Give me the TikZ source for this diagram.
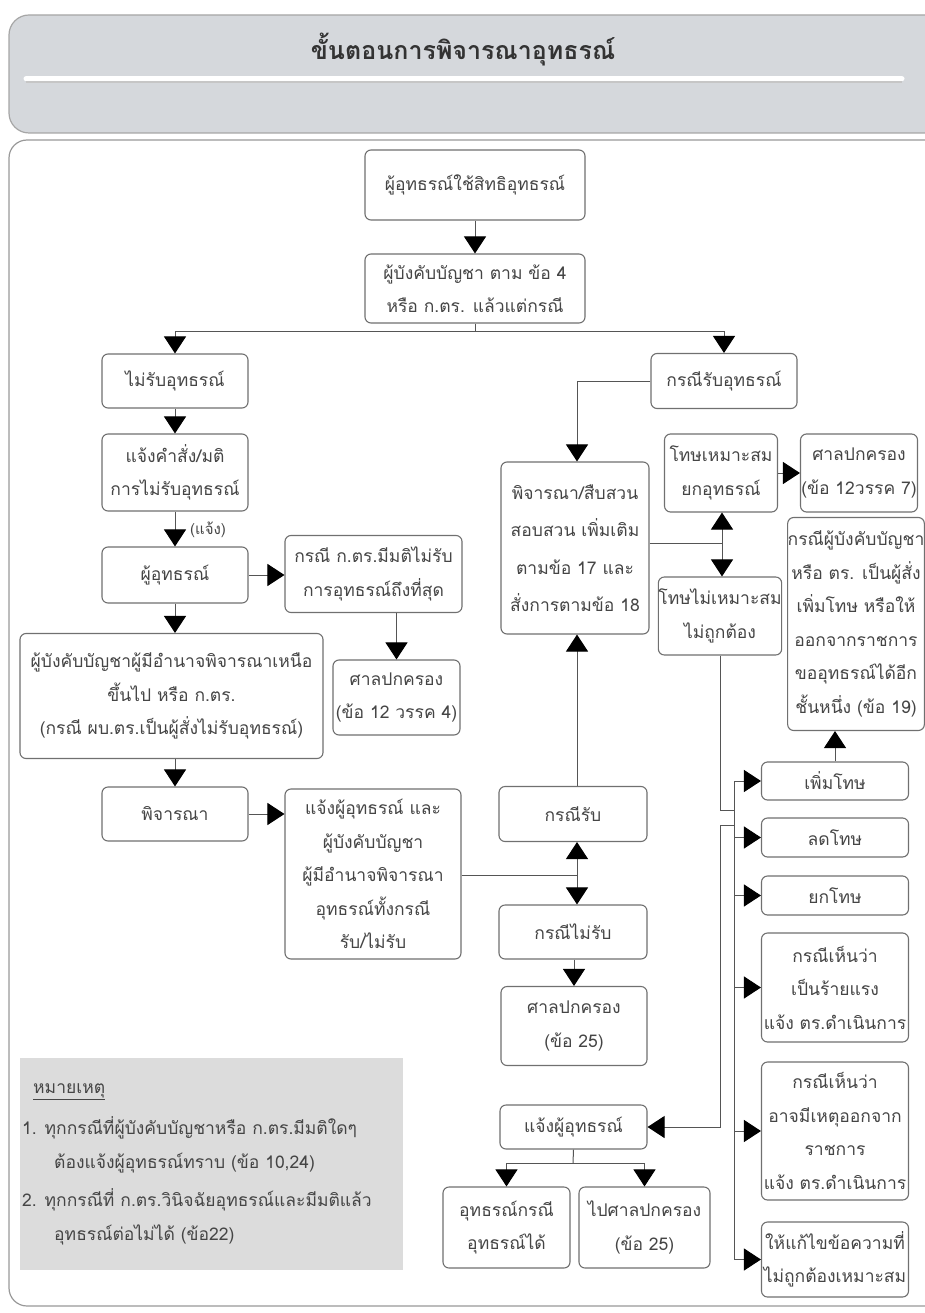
\documentclass[tikz,border=0pt]{standalone}
\usepackage{fontspec}
\newfontfamily\thai[Script=Thai]{Loma}
\usetikzlibrary{arrows.meta,calc}
\definecolor{boxline}{HTML}{707070}
\definecolor{conn}{HTML}{555555}
\definecolor{txt}{HTML}{454545}
\definecolor{headfill}{HTML}{D5D8DC}
\definecolor{notefill}{HTML}{DCDCDC}
\tikzset{
  fbox/.style={draw=boxline, line width=1.1pt, rounded corners=6pt, fill=white,
    align=center, inner sep=0pt, text=txt,
    font=\thai\fontsize{17.5}{33.5}\selectfont},
  conn/.style={draw=conn, line width=1pt},
  arr/.style={draw=conn, line width=1pt, -{Triangle[width=22pt,length=17pt,color=black]}},
  notetext/.style={anchor=west, inner sep=0pt, text=txt, font=\thai\fontsize{17.5}{33.5}\selectfont}
}
\begin{document}
\begin{tikzpicture}[x=1pt,y=-1pt]
\useasboundingbox (0,0) rectangle (925,1313);
% header
\draw[draw=gray!70, fill=headfill, line width=1.2pt, rounded corners=20pt] (9,15) rectangle (980,133);
\draw[gray!45, line width=2pt] (26,82) -- (902,82);
\draw[white, line width=5pt, line cap=round] (26,79) -- (902,79);
\node[text=black!80, font=\thai\bfseries\fontsize{25}{30}\selectfont] (title) at (463,50) {ขั้นตอนการพิจารณาอุทธรณ์};
% main panel
\draw[draw=gray!80, line width=1.2pt, rounded corners=18pt, fill=white] (9,140) rectangle (980,1306);

% boxes
\node[fbox, minimum width=220pt, minimum height=70pt] (n1) at (475,185) {ผู้อุทธรณ์ใช้สิทธิอุทธรณ์};
\node[fbox, minimum width=220pt, minimum height=69pt] (n2) at (475,288.5) {ผู้บังคับบัญชา ตาม ข้อ 4\\หรือ ก.ตร. แล้วแต่กรณี};
\node[fbox, minimum width=146pt, minimum height=54pt] (n3) at (175,381) {ไม่รับอุทธรณ์};
\node[fbox, minimum width=146pt, minimum height=77pt] (n4) at (175,472.5) {แจ้งคำสั่ง/มติ\\การไม่รับอุทธรณ์};
\node[fbox, minimum width=146pt, minimum height=56pt] (n5) at (175,575) {ผู้อุทธรณ์};
\node[fbox, minimum width=177pt, minimum height=77pt] (n6) at (373.5,574) {กรณี ก.ตร.มีมติไม่รับ\\การอุทธรณ์ถึงที่สุด};
\node[fbox, minimum width=127pt, minimum height=75pt] (n7) at (396.5,697.5) {ศาลปกครอง\\(ข้อ 12 วรรค 4)};
\node[fbox, minimum width=303pt, minimum height=125pt] (n8) at (171.5,696) {ผู้บังคับบัญชาผู้มีอำนาจพิจารณาเหนือ\\ขึ้นไป หรือ ก.ตร.\\(กรณี ผบ.ตร.เป็นผู้สั่งไม่รับอุทธรณ์)};
\node[fbox, minimum width=146pt, minimum height=54pt] (n9) at (175,814) {พิจารณา};
\node[fbox, minimum width=176pt, minimum height=170pt] (n10) at (373,874) {แจ้งผู้อุทธรณ์ และ\\ผู้บังคับบัญชา\\ผู้มีอำนาจพิจารณา\\อุทธรณ์ทั้งกรณี\\รับ/ไม่รับ};
\node[fbox, minimum width=148pt, minimum height=55pt] (n11) at (573,814) {กรณีรับ};
\node[fbox, minimum width=148pt, minimum height=54pt] (n12) at (573,932) {กรณีไม่รับ};
\node[fbox, minimum width=146pt, minimum height=79pt] (n13) at (574,1026) {ศาลปกครอง\\(ข้อ 25)};
\node[fbox, minimum width=148pt, minimum height=172pt, font=\thai\fontsize{17.5}{37.5}\selectfont] (n14) at (575,548) {พิจารณา/สืบสวน\\สอบสวน เพิ่มเติม\\ตามข้อ 17 และ\\สั่งการตามข้อ 18};
\node[fbox, minimum width=146pt, minimum height=55pt] (n15) at (724,381) {กรณีรับอุทธรณ์};
\node[fbox, minimum width=113pt, minimum height=78pt] (n16) at (721,473) {โทษเหมาะสม\\ยกอุทธรณ์};
\node[fbox, minimum width=117pt, minimum height=78pt] (n17) at (859,473) {ศาลปกครอง\\(ข้อ 12วรรค 7)};
\node[fbox, minimum width=115pt, minimum height=78pt] (n18) at (720,616) {โทษไม่เหมาะสม\\ไม่ถูกต้อง};
\node[fbox, minimum width=134pt, minimum height=213pt] (n19) at (856,624) {กรณีผู้บังคับบัญชา\\หรือ ตร. เป็นผู้สั่ง\\เพิ่มโทษ หรือให้\\ออกจากราชการ\\ขออุทธรณ์ได้อีก\\ชั้นหนึ่ง (ข้อ 19)};
\node[fbox, minimum width=147pt, minimum height=38pt] (n20) at (835,781) {เพิ่มโทษ};
\node[fbox, minimum width=147pt, minimum height=39pt] (n21) at (835,837.5) {ลดโทษ};
\node[fbox, minimum width=147pt, minimum height=39pt] (n22) at (835,895.5) {ยกโทษ};
\node[fbox, minimum width=147pt, minimum height=109pt] (n23) at (835,987.5) {กรณีเห็นว่า\\เป็นร้ายแรง\\แจ้ง ตร.ดำเนินการ};
\node[fbox, minimum width=147pt, minimum height=138pt] (n24) at (835,1131) {กรณีเห็นว่า\\อาจมีเหตุออกจาก\\ราชการ\\แจ้ง ตร.ดำเนินการ};
\node[fbox, minimum width=147pt, minimum height=75pt] (n25) at (835,1259.5) {ให้แก้ไขข้อความที่\\ไม่ถูกต้องเหมาะสม};
\node[fbox, minimum width=147pt, minimum height=44pt] (n26) at (573.5,1127) {แจ้งผู้อุทธรณ์};
\node[fbox, minimum width=127pt, minimum height=81pt] (n27) at (506.5,1227.5) {อุทธรณ์กรณี\\อุทธรณ์ได้};
\node[fbox, minimum width=131pt, minimum height=81pt] (n28) at (644.5,1227.5) {ไปศาลปกครอง\\(ข้อ 25)};

% note box
\node[fill=notefill, minimum width=383pt, minimum height=212pt, inner sep=0pt] (note) at (211.5,1164) {};
\node[notetext] (nt0) at (33,1092) {\underline{หมายเหตุ}};
\node[notetext] (nt1) at (22,1128) {1. ทุกกรณีที่ผู้บังคับบัญชาหรือ ก.ตร.มีมติใดๆ};
\node[notetext] (nt2) at (54,1163) {ต้องแจ้งผู้อุทธรณ์ทราบ (ข้อ 10,24)};
\node[notetext] (nt3) at (22,1200) {2. ทุกกรณีที่ ก.ตร.วินิจฉัยอุทธรณ์และมีมติแล้ว};
\node[notetext] (nt4) at (54,1235) {อุทธรณ์ต่อไม่ได้ (ข้อ22)};

% coordinates
\coordinate (j1) at (475,331);
\coordinate (j2) at (577,875);
\coordinate (j3) at (722,543);
\coordinate (bus) at (734,0);
\coordinate (k1) at (734,810);
\coordinate (k2) at (734,825);
\coordinate (s1) at (573,1163);

% connectors
\draw[arr] (n1) -- (n2);
\draw[conn] (n2.south) -- (j1);
\draw[arr] (j1) -| (n3.north);
\draw[arr] (j1) -| (n15.north);
\draw[arr] (n3) -- (n4);
\draw[arr] (n4) -- (n5);
\node[anchor=west, inner sep=0pt, text=txt, font=\thai\fontsize{15}{18}\selectfont] (lbl) at (190,530) {(แจ้ง)};
\draw[arr] (n5.east) -- (n5.east -| n6.west);
\draw[arr] (n7.north |- n6.south) -- (n7.north);
\draw[arr] (n5.south) -- (n5.south |- n8.north);
\draw[arr] (n9.north |- n8.south) -- (n9.north);
\draw[arr] (n9.east) -- (n9.east -| n10.west);
\draw[conn] (n10.east |- j2) -- (j2);
\draw[arr] (j2) -- (j2 |- n11.south);
\draw[arr] (j2) -- (j2 |- n12.north);
\draw[arr] (j2 |- n11.north) -- (j2 |- n14.south);
\draw[arr] (n13.north |- n12.south) -- (n13.north);
\draw[arr] (n15.west) -| (j2 |- n14.north);
\draw[conn] (n14.east |- j3) -- (j3);
\draw[arr] (j3) -- (j3 |- n16.south);
\draw[arr] (j3) -- (j3 |- n18.north);
\draw[arr] (n16.east) -- (n17.west);
\draw[conn] (n18.south) |- (k1);
\draw[conn] (bus |- n20.west) -- (bus |- n25.west);
\foreach \b in {n20,n21,n22,n23,n24,n25} {\draw[arr] (bus |- \b.west) -- (\b.west);}
\draw[arr] (n20.north) -- (n20.north |- n19.south);
\draw[arr] (k2) -- (k2 -| n18.south) |- (n26.east);
\draw[conn] (n26.south) -- (s1);
\draw[arr] (s1) -| (n27.north);
\draw[arr] (s1) -| (n28.north);
\end{tikzpicture}
\end{document}
